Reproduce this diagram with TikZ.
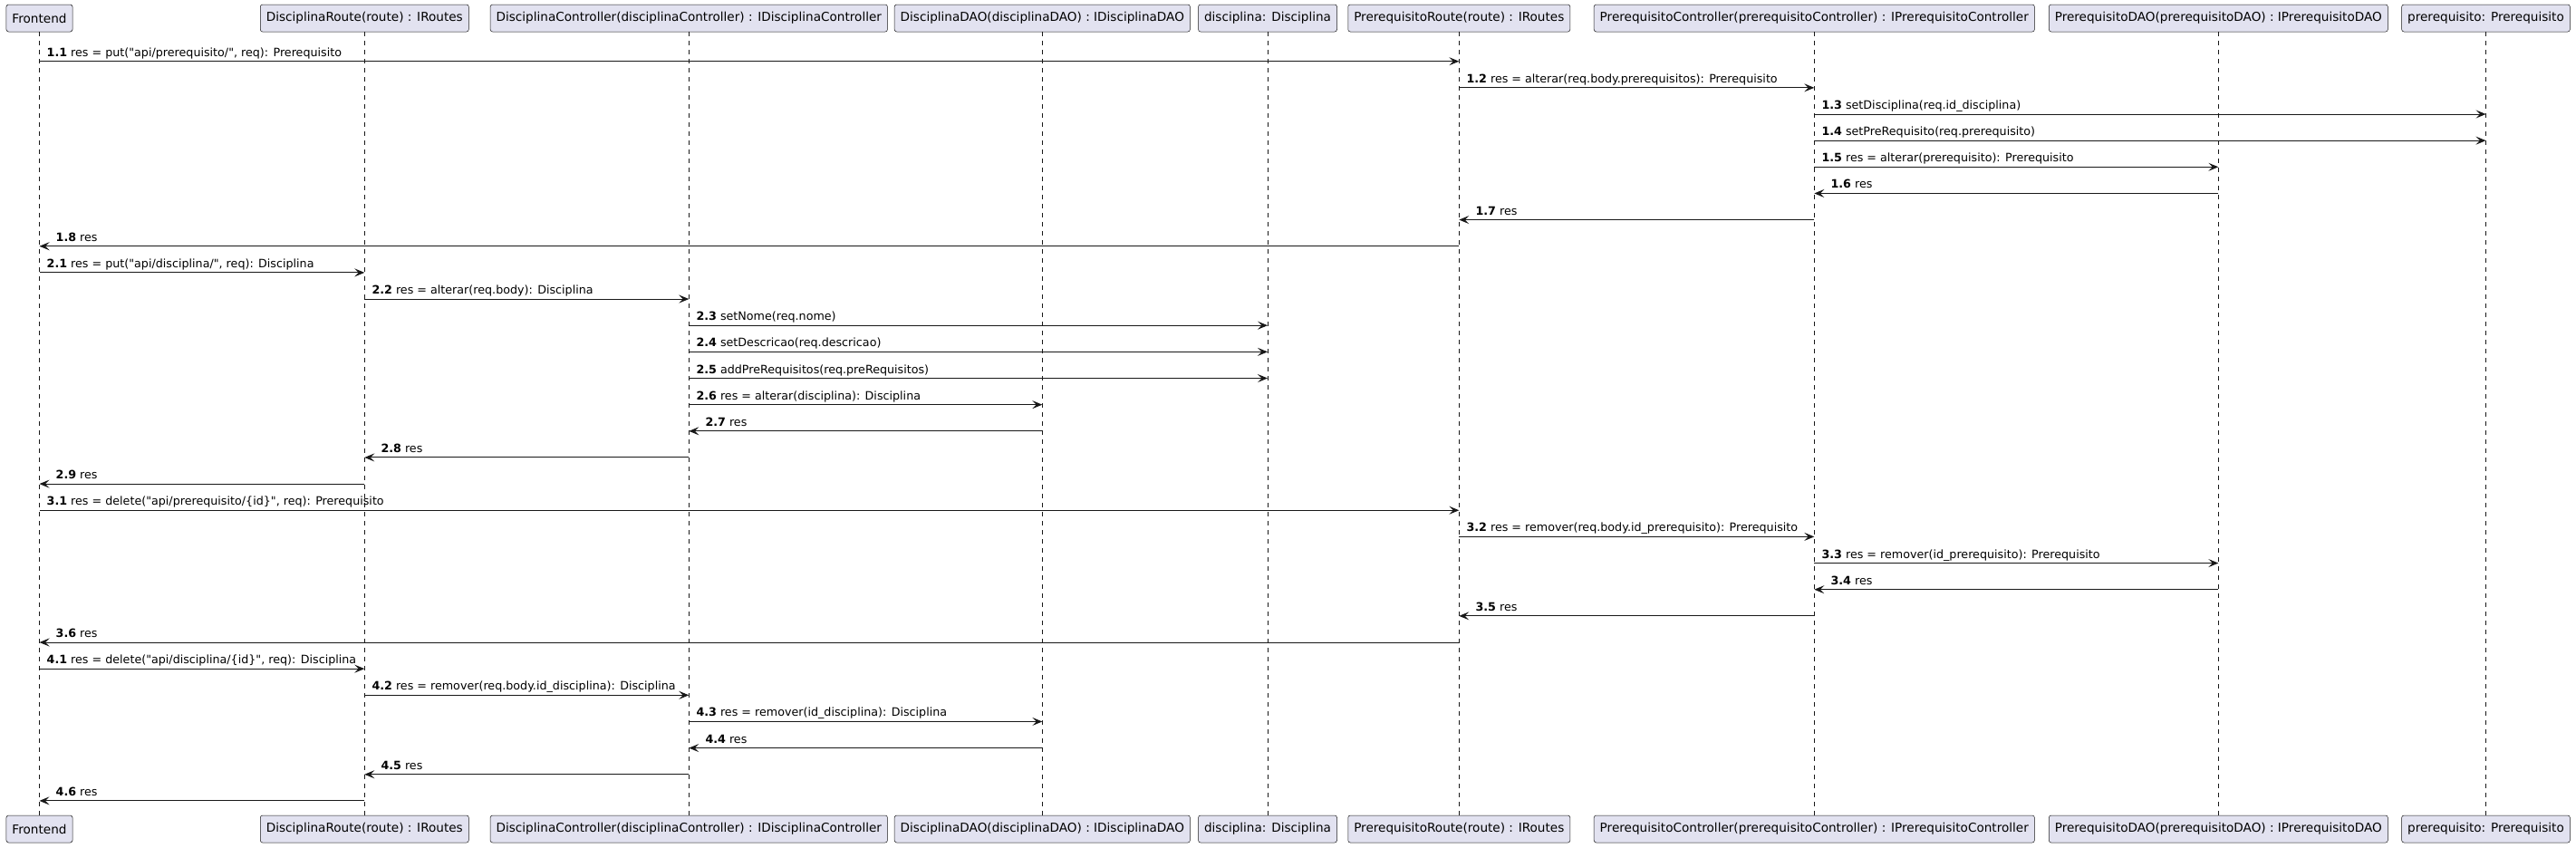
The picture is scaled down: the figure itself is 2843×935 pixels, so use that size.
\documentclass[tikz,border=0pt]{standalone}
\usepackage{fontspec}
\setmainfont{DejaVu Sans}[Ligatures=TeXOff]
\usetikzlibrary{arrows.meta}
\definecolor{pfill}{HTML}{E2E2F0}
\definecolor{pline}{HTML}{181818}
\tikzset{
 part/.style={draw=pline, line width=0.5pt, fill=pfill, rounded corners=2.5pt, minimum height=30pt, inner xsep=6.5pt, inner ysep=0pt, font=\fontsize{13.6}{16}\selectfont},
 life/.style={draw=pline, line width=0.5pt, dash pattern=on 5pt off 5pt},
 msgline/.style={draw=pline, line width=1pt, -{Stealth[length=11pt,width=9pt,inset=4.5pt]}},
 msglabel/.style={anchor=base west, inner sep=0pt, font=\fontsize{12.7}{15}\selectfont}
}
\newcommand\msgR[5]{\pgfmathsetmacro\yy{67.7+29.15*(#3-1)}%
 \coordinate (s#3) at (#1 |- 0,\yy); \coordinate (e#3) at (#2 |- 0,\yy);
 \draw[msgline] (s#3) -- (e#3);
 \node[msglabel] (l#3) at ([xshift=8pt,yshift=5.5pt]s#3) {\textbf{#4} #5};}
\newcommand\msgL[5]{\pgfmathsetmacro\yy{67.7+29.15*(#3-1)}%
 \coordinate (s#3) at (#1 |- 0,\yy); \coordinate (e#3) at (#2 |- 0,\yy);
 \draw[msgline] (s#3) -- (e#3);
 \node[msglabel] (l#3) at ([xshift=18pt,yshift=5.5pt]e#3) {\textbf{#4} #5};}
\begin{document}
\begin{tikzpicture}[x=1pt,y=-1pt]
\useasboundingbox[fill=white] (0,0) rectangle (2843,935);
% participants (top)
\node[part] (F)  at (43.5,20)   {Frontend};
\node[part] (DR) at (402.3,20)  {DisciplinaRoute(route) : IRoutes};
\node[part] (DC) at (760.3,20)  {DisciplinaController(disciplinaController) : IDisciplinaController};
\node[part] (DD) at (1150.3,20) {DisciplinaDAO(disciplinaDAO) : IDisciplinaDAO};
\node[part] (DI) at (1399,20)   {disciplina: Disciplina};
\node[part] (PR) at (1610.3,20) {PrerequisitoRoute(route) : IRoutes};
\node[part] (PC) at (2002.3,20) {PrerequisitoController(prerequisitoController) : IPrerequisitoController};
\node[part] (PD) at (2448.3,20) {PrerequisitoDAO(prerequisitoDAO) : IPrerequisitoDAO};
\node[part] (PQ) at (2743.5,20) {prerequisito: Prerequisito};
% participants (bottom)
\node[part] (Fb)  at (43.5,915)   {Frontend};
\node[part] (DRb) at (402.3,915)  {DisciplinaRoute(route) : IRoutes};
\node[part] (DCb) at (760.3,915)  {DisciplinaController(disciplinaController) : IDisciplinaController};
\node[part] (DDb) at (1150.3,915) {DisciplinaDAO(disciplinaDAO) : IDisciplinaDAO};
\node[part] (DIb) at (1399,915)   {disciplina: Disciplina};
\node[part] (PRb) at (1610.3,915) {PrerequisitoRoute(route) : IRoutes};
\node[part] (PCb) at (2002.3,915) {PrerequisitoController(prerequisitoController) : IPrerequisitoController};
\node[part] (PDb) at (2448.3,915) {PrerequisitoDAO(prerequisitoDAO) : IPrerequisitoDAO};
\node[part] (PQb) at (2743.5,915) {prerequisito: Prerequisito};
% lifelines
\foreach \p in {F,DR,DC,DD,DI,PR,PC,PD,PQ}{\draw[life] (\p.south) -- (\p b.north);}
% messages
\msgR{F}{PR}{1}{1.1}{res = put("api/prerequisito/", req): Prerequisito}
\msgR{PR}{PC}{2}{1.2}{res = alterar(req.body.prerequisitos): Prerequisito}
\msgR{PC}{PQ}{3}{1.3}{setDisciplina(req.id\_disciplina)}
\msgR{PC}{PQ}{4}{1.4}{setPreRequisito(req.prerequisito)}
\msgR{PC}{PD}{5}{1.5}{res = alterar(prerequisito): Prerequisito}
\msgL{PD}{PC}{6}{1.6}{res}
\msgL{PC}{PR}{7}{1.7}{res}
\msgL{PR}{F}{8}{1.8}{res}
\msgR{F}{DR}{9}{2.1}{res = put("api/disciplina/", req): Disciplina}
\msgR{DR}{DC}{10}{2.2}{res = alterar(req.body): Disciplina}
\msgR{DC}{DI}{11}{2.3}{setNome(req.nome)}
\msgR{DC}{DI}{12}{2.4}{setDescricao(req.descricao)}
\msgR{DC}{DI}{13}{2.5}{addPreRequisitos(req.preRequisitos)}
\msgR{DC}{DD}{14}{2.6}{res = alterar(disciplina): Disciplina}
\msgL{DD}{DC}{15}{2.7}{res}
\msgL{DC}{DR}{16}{2.8}{res}
\msgL{DR}{F}{17}{2.9}{res}
\msgR{F}{PR}{18}{3.1}{res = delete("api/prerequisito/\{id\}", req): Prerequisito}
\msgR{PR}{PC}{19}{3.2}{res = remover(req.body.id\_prerequisito): Prerequisito}
\msgR{PC}{PD}{20}{3.3}{res = remover(id\_prerequisito): Prerequisito}
\msgL{PD}{PC}{21}{3.4}{res}
\msgL{PC}{PR}{22}{3.5}{res}
\msgL{PR}{F}{23}{3.6}{res}
\msgR{F}{DR}{24}{4.1}{res = delete("api/disciplina/\{id\}", req): Disciplina}
\msgR{DR}{DC}{25}{4.2}{res = remover(req.body.id\_disciplina): Disciplina}
\msgR{DC}{DD}{26}{4.3}{res = remover(id\_disciplina): Disciplina}
\msgL{DD}{DC}{27}{4.4}{res}
\msgL{DC}{DR}{28}{4.5}{res}
\msgL{DR}{F}{29}{4.6}{res}
\end{tikzpicture}
\end{document}
